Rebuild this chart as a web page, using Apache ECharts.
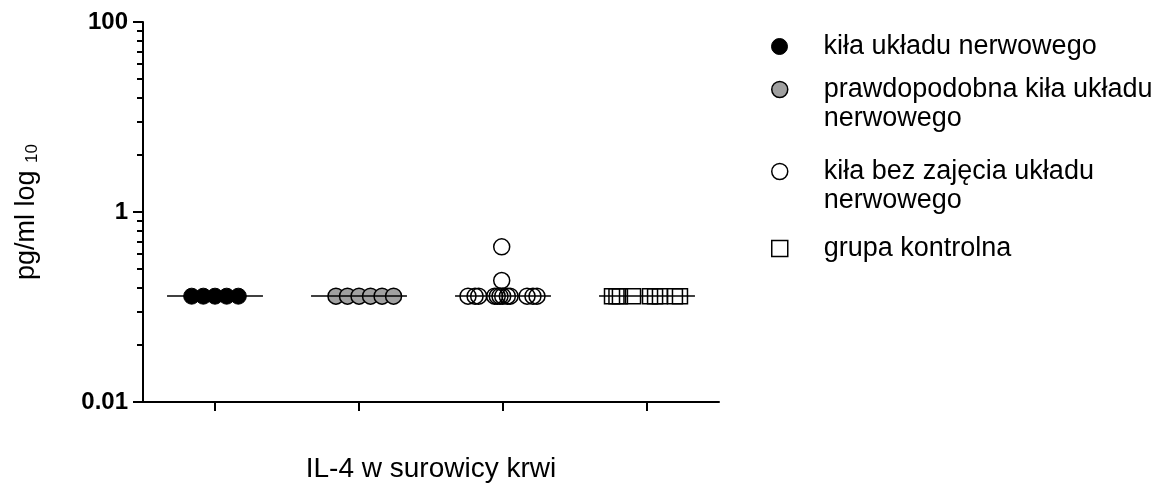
<!DOCTYPE html>
<html><head><meta charset="utf-8">
<script src="https://cdn.jsdelivr.net/npm/echarts@6/dist/echarts.min.js"></script>
<style>html,body{margin:0;padding:0;background:#fff}#c{width:1167px;height:494px}</style>
</head><body><div id="c"></div>
<script>
// ---- data ----
const seriesNames = ['kiła układu nerwowego', 'prawdopodobna kiła układu nerwowego', 'kiła bez zajęcia układu nerwowego', 'grupa kontrolna'];
const legendLines = [['kiła układu nerwowego'], ['prawdopodobna kiła układu', 'nerwowego'], ['kiła bez zajęcia układu', 'nerwowego'], ['grupa kontrolna']];
const xAxisTitle = 'IL-4 w surowicy krwi';
const yMajorTicks = [0.01, 1, 100];
const yTickLabels = ['0.01', '1', '100'];
const yMinorTicks = [0.04, 0.09, 0.16, 0.25, 0.36, 0.49, 0.64, 0.81, 4, 9, 16, 25, 36, 49, 64, 81];
const groupCenters = [0.5, 1.5, 2.5, 3.5];
const group1Values = [0.13, 0.13, 0.13, 0.13, 0.13];
const group1Spread = [-0.162, -0.081, 0, 0.081, 0.162];
const group2Values = [0.13, 0.13, 0.13, 0.13, 0.13, 0.13];
const group2Spread = [-0.16, -0.08, 0, 0.08, 0.16, 0.24];
const group3Values = [0.13, 0.13, 0.13, 0.13, 0.13, 0.13, 0.13, 0.13, 0.13, 0.13, 0.13, 0.13, 0.19, 0.43];
const group3Spread = [-0.243, -0.194, -0.169, -0.058, -0.040, -0.021, -0.002, 0.030, 0.049, 0.167, 0.208, 0.236, -0.009, -0.009];
const group4Values = [0.13, 0.13, 0.13, 0.13, 0.13, 0.13, 0.13, 0.13, 0.13];
const group4Spread = [-0.243, -0.212, -0.188, -0.097, 0.021, 0.056, 0.090, 0.194, 0.229];
const medians = [0.13, 0.13, 0.13, 0.13];

// ---- chart ----
const FONT = 'Liberation Sans, Arial, Helvetica, sans-serif';
const groups = [
  {values: group1Values, spread: group1Spread, symbol: 'circle', fill: '#000000', bw: 1},
  {values: group2Values, spread: group2Spread, symbol: 'circle', fill: '#a0a0a0', bw: 1.5},
  {values: group3Values, spread: group3Spread, symbol: 'circle', fill: 'rgba(255,255,255,0)', bw: 1.5},
  {values: group4Values, spread: group4Spread, symbol: 'rect', fill: 'rgba(255,255,255,0)', bw: 1.5}
];
const MEDIAN_HALF = 0.333;
const legendTops = [32, 46, 128, 234];

const series = groups.map((g, i) => ({
  name: seriesNames[i],
  type: 'scatter',
  xAxisIndex: 0,
  yAxisIndex: 0,
  symbol: g.symbol,
  symbolSize: g.symbol === 'rect' ? 15 : 16,
  itemStyle: {color: g.fill, borderColor: '#000', borderWidth: g.bw, opacity: 1},
  emphasis: {disabled: true},
  data: g.values.map((v, k) => [groupCenters[i] + g.spread[k], v]),
  markLine: {
    silent: true,
    symbol: 'none',
    label: {show: false},
    lineStyle: {color: '#000', width: 1.5, type: 'solid'},
    data: [[{coord: [groupCenters[i] - MEDIAN_HALF, medians[i]]}, {coord: [groupCenters[i] + MEDIAN_HALF, medians[i]]}]]
  }
}));

// two-line items: a blank leading line keeps the first text line level with the icon
const legendText = lines => lines.length > 1 ? '\u00a0\n' + lines.join('\n') : lines[0];

const legends = seriesNames.map((n, i) => ({
  data: [{name: n, icon: groups[i].symbol}],
  orient: 'vertical',
  left: 771,
  top: legendTops[i],
  padding: 0,
  itemWidth: 16,
  itemHeight: 16,
  selectedMode: false,
  formatter: name => legendText(legendLines[seriesNames.indexOf(name)]),
  itemStyle: {borderWidth: groups[i].bw, borderColor: '#000'},
  textStyle: {fontFamily: FONT, fontSize: 27, lineHeight: 29, color: '#000', padding: [0, 0, 0, 31]}
}));

const chart = echarts.init(document.getElementById('c'), null, {renderer: 'canvas'});
chart.setOption({
  backgroundColor: '#ffffff',
  animation: false,
  textStyle: {fontFamily: FONT},
  grid: {left: 143, top: 22, width: 576, height: 380, containLabel: false},
  legend: legends,
  xAxis: {
    type: 'value', min: 0, max: 4,
    name: xAxisTitle, nameLocation: 'middle', nameGap: 53,
    nameTextStyle: {fontFamily: FONT, fontSize: 28, color: '#000'},
    axisLine: {show: true, lineStyle: {color: '#000', width: 2}},
    axisTick: {show: true, customValues: groupCenters, length: 9, lineStyle: {color: '#000', width: 2}},
    axisLabel: {show: false},
    splitLine: {show: false}
  },
  yAxis: [{
    type: 'log', logBase: 10, min: 0.01, max: 100,
    position: 'left',
    name: '{a|pg/ml log }{b|10}',
    nameLocation: 'middle', nameGap: 102, nameRotate: 90,
    nameTextStyle: {
      color: '#000',
      rich: {
        a: {fontFamily: FONT, fontSize: 27, color: '#000'},
        b: {fontFamily: FONT, fontSize: 17, color: '#000', padding: [12, 0, 0, 0]}
      }
    },
    axisLine: {show: true, lineStyle: {color: '#000', width: 2}},
    axisTick: {show: true, customValues: yMajorTicks, length: 10, lineStyle: {color: '#000', width: 2}},
    axisLabel: {
      customValues: yMajorTicks, margin: 15, fontFamily: FONT, fontSize: 24, fontWeight: 'bold', color: '#000',
      formatter: v => {
        const k = yMajorTicks.findIndex(t => Math.abs(Math.log10(t) - Math.log10(v)) < 1e-6);
        return k >= 0 ? yTickLabels[k] : '';
      }
    },
    splitLine: {show: false}
  }, {
    type: 'log', logBase: 10, min: 0.01, max: 100,
    position: 'left', offset: 0,
    axisLine: {show: false},
    axisTick: {show: true, customValues: yMinorTicks, length: 6, lineStyle: {color: '#000', width: 2}},
    axisLabel: {show: false},
    splitLine: {show: false}
  }],
  series: series
});
</script></body></html>
